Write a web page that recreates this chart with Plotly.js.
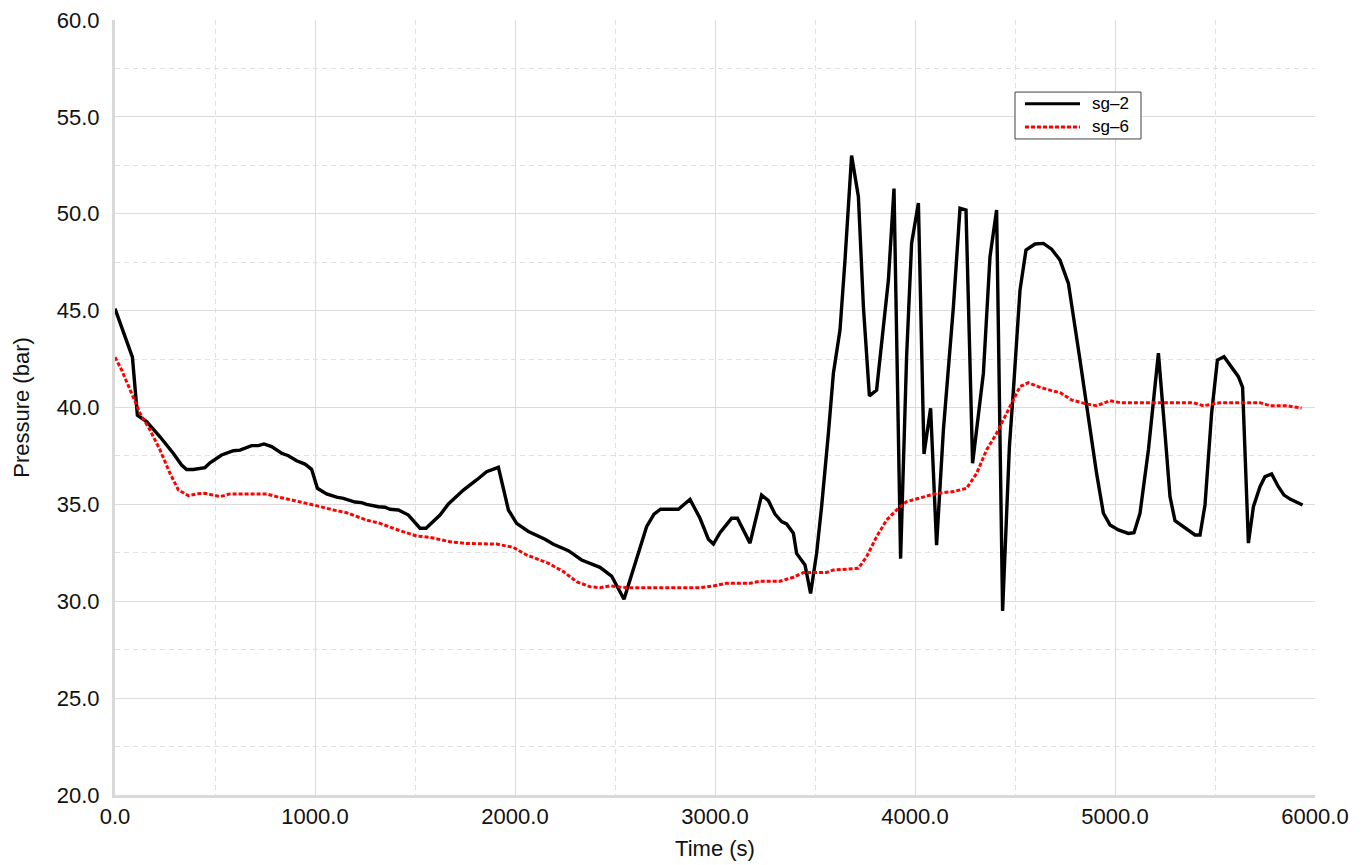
<!DOCTYPE html>
<html>
<head>
<meta charset="utf-8">
<script src="https://cdn.plot.ly/plotly-3.0.1.min.js"></script>
<style>html,body{margin:0;padding:0;background:#fff;}#chart{width:1371px;height:865px;}</style>
</head>
<body>
<div id="chart"></div>
<script>
// sg-2 series
const timeSg2 = [0,87,112,158,225,292,333,358,392,450,475,533,592,625,683,717,745,783,833,867,908,950,983,1012,1058,1108,1142,1200,1233,1258,1317,1350,1375,1417,1467,1525,1555,1625,1667,1742,1808,1858,1917,1967,2008,2067,2150,2192,2267,2333,2425,2483,2545,2600,2658,2695,2728,2817,2875,2925,2967,2992,3025,3083,3112,3175,3233,3267,3300,3333,3358,3392,3408,3450,3478,3508,3533,3567,3592,3625,3650,3683,3717,3742,3772,3808,3833,3867,3895,3928,3958,3983,4017,4045,4078,4108,4142,4192,4225,4255,4288,4342,4375,4408,4438,4472,4492,4525,4555,4600,4642,4683,4725,4767,4825,4908,4942,4975,5017,5067,5095,5125,5167,5217,5250,5275,5300,5358,5400,5425,5450,5483,5512,5545,5583,5617,5638,5667,5692,5725,5750,5783,5817,5845,5878,5938];
const pressureSg2 = [45.1,42.6,39.6,39.27,38.49,37.63,37.03,36.8,36.8,36.9,37.15,37.55,37.77,37.8,38.03,38.03,38.12,37.98,37.64,37.51,37.25,37.08,36.81,35.83,35.54,35.37,35.31,35.12,35.09,35.0,34.88,34.85,34.75,34.71,34.45,33.77,33.77,34.45,35.02,35.74,36.26,36.69,36.91,34.71,34.02,33.6,33.2,32.94,32.61,32.13,31.75,31.3,30.1,31.96,33.85,34.5,34.75,34.75,35.26,34.28,33.2,32.95,33.54,34.28,34.28,33.0,35.48,35.19,34.5,34.11,33.99,33.51,32.47,31.87,30.4,32.47,34.88,38.67,41.77,44.0,47.61,53.0,50.88,45.2,40.6,40.9,43.48,46.58,51.3,32.2,42.62,48.47,50.55,37.6,39.96,32.9,38.84,45.2,50.28,50.19,37.12,41.77,47.78,50.19,29.5,37.98,40.9,46.06,48.13,48.44,48.47,48.17,47.61,46.41,42.45,36.6,34.54,33.94,33.68,33.5,33.54,34.54,37.81,42.8,38.67,35.4,34.16,33.71,33.42,33.42,34.97,39.7,42.45,42.62,42.11,41.59,41.04,33.0,34.88,35.91,36.43,36.57,35.91,35.48,35.26,34.97];

// sg-6 series
const timeSg6 = [0,33,83,125,175,225,275,317,367,408,450,525,575,758,808,925,992,1092,1158,1258,1325,1425,1508,1575,1675,1758,1908,1992,2058,2167,2242,2308,2375,2425,2475,2558,2925,2992,3058,3175,3225,3325,3392,3442,3558,3592,3717,3758,3808,3858,3917,3958,4042,4108,4192,4258,4308,4358,4408,4475,4525,4567,4625,4683,4725,4783,4858,4908,4975,5025,5392,5442,5492,5525,5725,5775,5858,5933];
const pressureSg6 = [42.6,41.94,40.73,39.7,38.84,37.81,36.6,35.74,35.45,35.54,35.57,35.4,35.54,35.54,35.4,35.14,34.97,34.71,34.57,34.19,34.02,33.64,33.37,33.3,33.07,32.98,32.95,32.78,32.39,31.96,31.53,31.01,30.75,30.7,30.79,30.7,30.7,30.79,30.93,30.93,31.03,31.03,31.24,31.48,31.49,31.61,31.7,32.3,33.33,34.19,34.8,35.14,35.4,35.57,35.66,35.83,36.6,37.81,38.67,40.04,41.08,41.28,41.04,40.87,40.77,40.39,40.18,40.09,40.35,40.25,40.25,40.09,40.18,40.25,40.25,40.09,40.09,39.97];

const seriesNames = ['sg\u20132', 'sg\u20136'];
const seriesColors = ['#000000', '#ff0000'];
const seriesDash = ['solid', '4px,2px'];
const xTitle = 'Time (s)';
const yTitle = 'Pressure (bar)';

const traces = [
  {x: timeSg2, y: pressureSg2, name: seriesNames[0], mode: 'lines', type: 'scatter',
   line: {color: seriesColors[0], width: 3.4, dash: seriesDash[0]}},
  {x: timeSg6, y: pressureSg6, name: seriesNames[1], mode: 'lines', type: 'scatter',
   line: {color: seriesColors[1], width: 3, dash: seriesDash[1]}}
];

const fontFam = 'Arial, "Liberation Sans", sans-serif';

// legend drawn in paper coordinates (box, sample lines, labels)
const legRows = [0.892, 0.862];
const shapes = [
  {type: 'rect', xref: 'paper', yref: 'paper', x0: 0.75, x1: 0.855, y0: 0.8465, y1: 0.907,
   line: {color: '#404040', width: 1}, fillcolor: '#ffffff', layer: 'above'}
];
const annotations = [];
seriesNames.forEach((nm, i) => {
  shapes.push({type: 'line', xref: 'paper', yref: 'paper', x0: 0.7583, x1: 0.8042, y0: legRows[i], y1: legRows[i],
    line: {color: seriesColors[i], width: 3, dash: seriesDash[i]}, layer: 'above'});
  annotations.push({xref: 'paper', yref: 'paper', x: 0.8125, y: legRows[i], xanchor: 'left', yanchor: 'middle',
    text: nm, showarrow: false, font: {family: fontFam, size: 17, color: '#000'}});
});

const layout = {
  width: 1371, height: 865,
  margin: {l: 115, r: 56, t: 20, b: 70},
  paper_bgcolor: '#ffffff', plot_bgcolor: '#ffffff',
  font: {family: fontFam, size: 22, color: '#111111'},
  showlegend: false,
  shapes: shapes,
  annotations: annotations,
  xaxis: {
    range: [0, 6000], dtick: 1000, tick0: 0, tickformat: '.1f',
    showgrid: true, gridcolor: '#dcdcdc', gridwidth: 1,
    minor: {dtick: 500, showgrid: true, gridcolor: '#e0e0e0', griddash: '5px,4px', gridwidth: 1},
    showline: true, linecolor: '#d9d9d9', linewidth: 3, zeroline: false,
    ticks: '', tickfont: {size: 22},
    title: {text: xTitle, font: {size: 22}, standoff: 13}
  },
  yaxis: {
    range: [20, 60], dtick: 5, tick0: 20, tickformat: '.1f',
    showgrid: true, gridcolor: '#dcdcdc', gridwidth: 1,
    minor: {dtick: 2.5, showgrid: true, gridcolor: '#e0e0e0', griddash: '5px,4px', gridwidth: 1},
    showline: true, linecolor: '#d9d9d9', linewidth: 3, zeroline: false,
    ticks: '', tickfont: {size: 22}, ticklabelstandoff: 8,
    title: {text: yTitle, font: {size: 22}, standoff: 22}
  }
};

Plotly.newPlot('chart', traces, layout, {displayModeBar: false, staticPlot: true});
</script>
</body>
</html>
